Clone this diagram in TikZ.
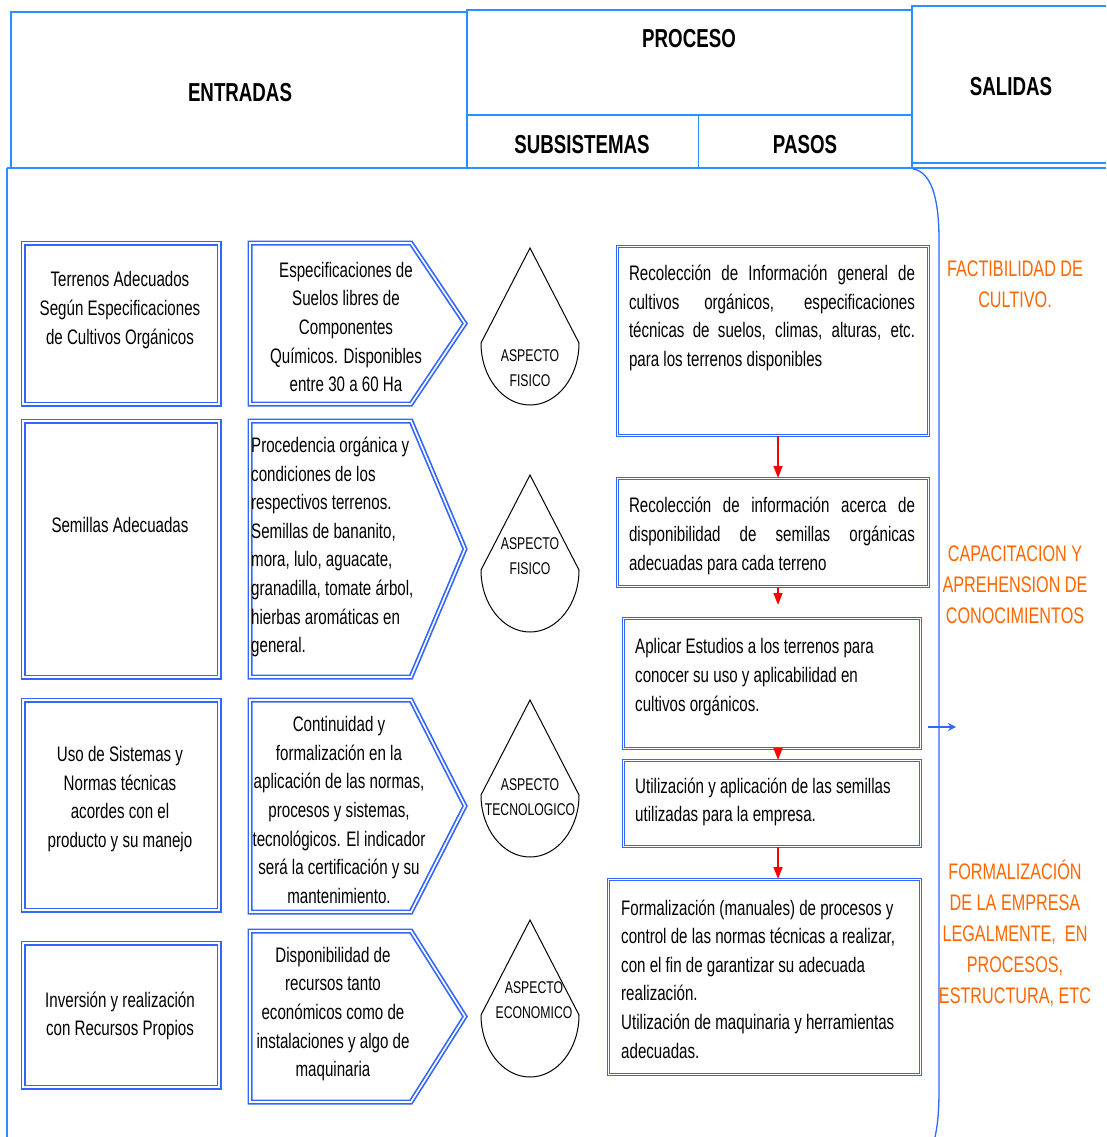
\documentclass[tikz,border=0pt]{standalone}
\usepackage{fontspec}
\setmainfont{Liberation Sans}[FakeStretch=0.72]
\usetikzlibrary{arrows.meta}
\definecolor{azulhdr}{RGB}{40,145,255}
\definecolor{azulcaja}{RGB}{51,102,255}
\definecolor{naranja}{RGB}{255,102,0}
\tikzset{
  entrada/.style={draw=azulcaja, line width=1.7pt, double=white, double distance=1.6pt},
  paso/.style={draw=azulcaja, line width=1.2pt, double=white, double distance=1pt,
    rectangle, anchor=north west, inner sep=0pt},
  texto/.style={font=\fontsize{21}{28.6}\selectfont, align=center, inner sep=0pt},
  titulo/.style={font=\fontsize{26}{30}\selectfont\bfseries, inner sep=0pt},
  aspecto/.style={font=\fontsize{17}{25.5}\selectfont, align=center, inner sep=0pt},
  salida/.style={font=\fontsize{22.5}{31}\selectfont, text=naranja, align=center, inner sep=0pt},
  flecha/.style={red, line width=1.5pt, -{Triangle[length=12pt,width=9pt]}},
}
% chevron de subsistema: y arriba, y abajo
\newcommand{\chevron}[2]{\draw[entrada] (250,-#1) -- (411,-#1) -- (465,{-(#1+#2)/2})
  -- (411,-#2) -- (250,-#2) -- cycle;}
% gota de aspecto: x centro, y punta
\newcommand{\gota}[2]{\draw[black, line width=1pt] (#1,-#2) -- (#1-49,-#2-95)
  arc[start angle=180, end angle=360, x radius=49, y radius=62] -- cycle;}
\begin{document}
\begin{tikzpicture}[x=1pt, y=1pt]
  \useasboundingbox (0,0) rectangle (1106,-1137);
  % encabezado
  \draw[azulhdr, line width=1.3pt] (11,-168) -- (11,-12) -- (467,-12);
  \draw[azulhdr, line width=1.6pt] (467,-168) -- (467,-10) -- (912,-10);
  \draw[azulhdr, line width=2pt] (467,-115) -- (912,-115);
  \draw[azulhdr, line width=1pt] (698,-115) -- (698,-168);
  \draw[azulhdr, line width=1.3pt] (912,-168) -- (912,-6) -- (1106,-6);
  \draw[azulhdr, line width=1.3pt] (912,-163) -- (1106,-163);
  \draw[azulhdr, line width=1.6pt] (7,-168) -- (1106,-168);
  \draw[azulhdr, line width=1.3pt] (7,-168) -- (7,-1137);
  \draw[azulcaja, line width=1.3pt] (913,-169) .. controls (932,-172) and (939,-200) .. (939,-240)
    -- (939,-1090) .. controls (939,-1115) and (937,-1128) .. (935,-1137);
  \node[titulo] (hEntradas) at (240,-93) {ENTRADAS};
  \node[titulo] (hProceso) at (689,-39) {PROCESO};
  \node[titulo] (hSubsist) at (582,-145) {SUBSISTEMAS};
  \node[titulo] (hPasos) at (805,-145) {PASOS};
  \node[titulo] (hSalidas) at (1011,-87) {SALIDAS};

  % entradas
  \draw[entrada] (23,-243) rectangle (219,-404);
  \draw[entrada] (23,-421) rectangle (219,-677);
  \draw[entrada] (23,-700) rectangle (219,-910);
  \draw[entrada] (23,-943) rectangle (219,-1087);
  \node[texto] (e1) at (120,-310) {Terrenos Adecuados\\Según Especificaciones\\de Cultivos Orgánicos};
  \node[texto] (e2) at (120,-525) {Semillas Adecuadas};
  \node[texto] (e3) at (120,-799) {Uso de Sistemas y\\Normas técnicas\\acordes con el\\producto y su manejo};
  \node[texto] (e4) at (120,-1016) {Inversión y realización\\con Recursos Propios};

  % subsistemas
  \chevron{243}{404}
  \chevron{421}{677}
  \chevron{700}{912}
  \chevron{931}{1102}
  \node[texto] (s1) at (346,-327) {Especificaciones de\\Suelos libres de\\Componentes\\Químicos. Disponibles\\entre 30 a 60 Ha};
  \node[texto, align=left, anchor=west] (s2) at (251,-547) {Procedencia orgánica y\\condiciones de los\\respectivos terrenos.\\Semillas de bananito,\\mora, lulo, aguacate,\\granadilla, tomate árbol,\\hierbas aromáticas en\\general.};
  \node[texto] (s3) at (339,-810) {Continuidad y\\formalización en la\\aplicación de las normas,\\procesos y sistemas,\\tecnológicos. El indicador\\será la certificación y su\\mantenimiento.};
  \node[texto] (s4) at (333,-1014) {Disponibilidad de\\recursos tanto\\económicos como de\\instalaciones y algo de\\maquinaria};

  % aspectos
  \gota{530}{248}
  \gota{530}{475}
  \gota{530}{700}
  \gota{530}{920}
  \node[aspecto] (a1) at (530,-368) {ASPECTO\\FISICO};
  \node[aspecto] (a2) at (530,-556) {ASPECTO\\FISICO};
  \node[aspecto] (a3) at (530,-797) {ASPECTO\\TECNOLOGICO};
  \node[aspecto] (a4) at (534,-1000) {ASPECTO\\ECONOMICO};

  % pasos
  \node[paso, minimum width=311pt, minimum height=189pt] (p1) at (617,-246) {};
  \node[paso, minimum width=311pt, minimum height=108pt] (p2) at (617,-478) {};
  \node[paso, minimum width=297pt, minimum height=130pt] (p3) at (623,-618) {};
  \node[paso, minimum width=297pt, minimum height=86pt] (p4) at (623,-760) {};
  \node[paso, minimum width=312pt, minimum height=195pt] (p5) at (608,-879) {};
  \node[texto, text width=286pt, align=justify] (t1) at (772,-318)
    {Recolección de Información general de\linebreak cultivos orgánicos, especificaciones\linebreak técnicas de suelos, climas, alturas, etc.\linebreak para los terrenos disponibles};
  \node[texto, text width=286pt, align=justify] (t2) at (772,-536)
    {Recolección de información acerca de\linebreak disponibilidad de semillas orgánicas\linebreak adecuadas para cada terreno};
  \node[texto, align=left, anchor=west] (t3) at (635,-677) {Aplicar Estudios a los terrenos para\\conocer su uso y aplicabilidad en\\cultivos orgánicos.};
  \node[texto, align=left, anchor=west] (t4) at (635,-802) {Utilización y aplicación de las semillas\\utilizadas para la empresa.};
  \node[texto, align=left, anchor=west] (t5) at (621,-979) {Formalización (manuales) de procesos y\\control de las normas técnicas a realizar,\\con el fin de garantizar su adecuada\\realización.\\Utilización de maquinaria y herramientas\\adecuadas.};

  \coordinate (ax) at (778,0);
  \draw[flecha] (p1.south -| ax) -- (p2.north -| ax);
  \draw[flecha, shorten >=13pt] (p2.south -| ax) -- (p3.north -| ax);
  \draw[flecha, shorten <=-9pt] (p3.south -| ax) -- (p4.north -| ax);
  \draw[flecha] (p4.south -| ax) -- (p5.north -| ax);

  % salidas
  \coordinate (bordeDer) at (928,-727);
  \coordinate (flechaSal) at (956,-727);
  \draw[azulcaja, line width=1.5pt, -{Stealth[length=8pt,width=8pt]}] (bordeDer) -- (flechaSal);
  \node[salida] (o1) at (1015,-284) {FACTIBILIDAD DE\\CULTIVO.};
  \node[salida] (o2) at (1015,-585) {CAPACITACION Y\\APREHENSION DE\\CONOCIMIENTOS};
  \node[salida] (o3) at (1015,-933) {FORMALIZACIÓN\\DE LA EMPRESA\\LEGALMENTE,\ \ EN\\PROCESOS,\\ESTRUCTURA, ETC};
\end{tikzpicture}
\end{document}
